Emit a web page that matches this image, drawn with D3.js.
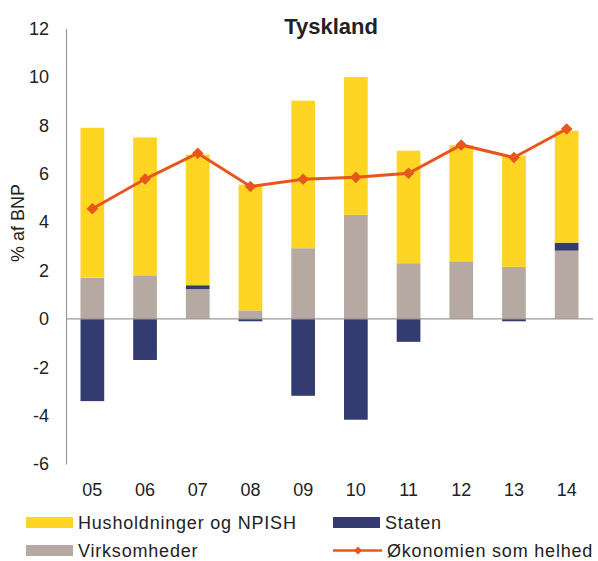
<!DOCTYPE html>
<html>
<head>
<meta charset="utf-8">
<script src="https://cdn.jsdelivr.net/npm/d3@7"></script>
<style>
  body { margin: 0; background: #fff; }
  text { font-family: "Liberation Sans", Arial, sans-serif; fill: #222; }
</style>
</head>
<body>
<svg id="chart" width="598" height="561"></svg>
<script>
const years = ["05", "06", "07", "08", "09", "10", "11", "12", "13", "14"];
const husholdninger = [6.2, 5.7, 5.4, 5.2, 6.1, 5.7, 4.65, 4.8, 4.6, 4.63];
const virksomheder = [1.7, 1.8, 1.23, 0.35, 2.92, 4.3, 2.3, 2.38, 2.15, 2.82];
const staten = [-3.4, -1.7, 0.16, -0.1, -3.18, -4.17, -0.95, 0, -0.1, 0.33];
const oekonomien = [4.55, 5.78, 6.85, 5.47, 5.77, 5.85, 6.02, 7.19, 6.67, 7.85];
const yTicks = [12, 10, 8, 6, 4, 2, 0, -2, -4, -6];

const colors = {
  hus: "#fed523",
  virk: "#b5a9a1",
  stat: "#343b70",
  line: "#e8561c"
};

const svg = d3.select("#chart");
const margin = { left: 66, right: 5, top: 28.6, bottom: 97 };
const width = 598 - margin.left - margin.right;
const height = 561 - margin.top - margin.bottom;

const g = svg.append("g").attr("transform", `translate(${margin.left},${margin.top})`);

const x = d3.scaleBand().domain(years).range([0, width]).paddingInner(0.55).paddingOuter(0.275);
const y = d3.scaleLinear().domain([-6, 12]).range([height, 0]);

// stacked segments: positives stack upward, negatives downward
const segments = [];
years.forEach((yr, i) => {
  let pos = 0, neg = 0;
  [["virk", virksomheder[i]], ["stat", staten[i]], ["hus", husholdninger[i]]].forEach(([key, v]) => {
    if (v >= 0) {
      segments.push({ yr, key, y0: pos, y1: pos + v });
      pos += v;
    } else {
      segments.push({ yr, key, y0: neg + v, y1: neg });
      neg += v;
    }
  });
});

g.selectAll("rect.seg")
  .data(segments)
  .join("rect")
  .attr("class", "seg")
  .attr("x", d => x(d.yr))
  .attr("width", x.bandwidth())
  .attr("y", d => y(d.y1))
  .attr("height", d => Math.max(0, y(d.y0) - y(d.y1)))
  .attr("fill", d => colors[d.key]);

// y axis
const yAxis = g.append("g").call(
  d3.axisLeft(y).tickValues(yTicks).tickSize(0).tickPadding(17).tickFormat(d3.format("d"))
);
yAxis.select(".domain").attr("stroke", "#9a9a9a").attr("stroke-width", 1.2);
yAxis.selectAll("text")
  .style("font-size", "18px")
  .attr("fill", "#222")
  .text(d => d < 0 ? "-" + Math.abs(d) : d);

// zero line
g.append("line")
  .attr("x1", 0).attr("x2", width)
  .attr("y1", y(0)).attr("y2", y(0))
  .attr("stroke", "#9a9a9a").attr("stroke-width", 1.2);

// x labels
const xAxis = g.append("g")
  .attr("transform", `translate(0,${height})`)
  .call(d3.axisBottom(x).tickSize(0).tickPadding(19));
xAxis.select(".domain").remove();
xAxis.selectAll("text").style("font-size", "18px").attr("fill", "#222");

// line series
const line = d3.line().x((d, i) => x(years[i]) + x.bandwidth() / 2).y(d => y(d));
g.append("path")
  .datum(oekonomien)
  .attr("d", line)
  .attr("fill", "none")
  .attr("stroke", colors.line)
  .attr("stroke-width", 3);

const diamond = d3.symbol().type(d3.symbolDiamond2).size(85);
g.selectAll("path.marker")
  .data(oekonomien)
  .join("path")
  .attr("class", "marker")
  .attr("transform", (d, i) => `translate(${x(years[i]) + x.bandwidth() / 2},${y(d)})`)
  .attr("d", diamond)
  .attr("fill", colors.line);

// title
svg.append("text")
  .attr("x", 331).attr("y", 34)
  .attr("text-anchor", "middle")
  .style("font-size", "22px")
  .style("font-weight", "bold")
  .text("Tyskland");

// y label
svg.append("text")
  .attr("transform", "translate(24,223) rotate(-90)")
  .attr("text-anchor", "middle")
  .style("font-size", "18px")
  .text("% af BNP");

// legend
const legendItems = [
  { label: "Husholdninger og NPISH", key: "hus", x: 26, y: 522.5, type: "rect" },
  { label: "Staten", key: "stat", x: 333, y: 522.5, type: "rect" },
  { label: "Virksomheder", key: "virk", x: 26, y: 550.5, type: "rect" },
  { label: "Økonomien som helhed", key: "line", x: 333, y: 550.5, type: "line" }
];
const legend = svg.append("g");
const li = legend.selectAll("g").data(legendItems).join("g")
  .attr("transform", d => `translate(${d.x},${d.y})`);
li.filter(d => d.type === "rect").append("rect")
  .attr("x", 0).attr("y", -5.5).attr("width", 47).attr("height", 11)
  .attr("fill", d => colors[d.key]);
li.filter(d => d.type === "line").append("line")
  .attr("x1", 0).attr("x2", 49).attr("y1", 0).attr("y2", 0)
  .attr("stroke", colors.line).attr("stroke-width", 2.5);
li.filter(d => d.type === "line").append("path")
  .attr("transform", "translate(25,0)")
  .attr("d", d3.symbol().type(d3.symbolDiamond2).size(40))
  .attr("fill", colors.line);
li.append("text")
  .attr("x", d => d.type === "line" ? 54 : 52)
  .attr("y", 6.5)
  .style("font-size", "18px")
  .style("letter-spacing", "0.8px")
  .text(d => d.label);
</script>
</body>
</html>
